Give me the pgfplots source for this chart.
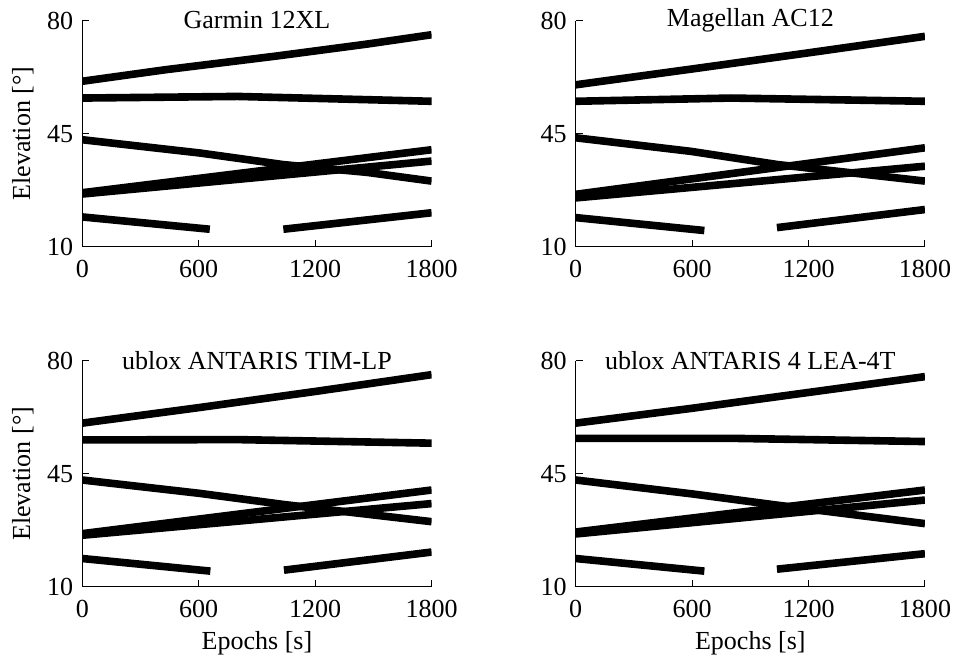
\documentclass[border=0pt]{standalone}
\usepackage{pgfplots}
\pgfplotsset{compat=1.18}
\usepgfplotslibrary{groupplots}
\usepackage{fontspec}
\setmainfont{Liberation Serif}
\begin{document}
\fontsize{13}{15}\selectfont
\begin{tikzpicture}
\begin{groupplot}[
  group style={group size=2 by 2, horizontal sep=72pt, vertical sep=57pt},
  scale only axis, width=174.5pt, height=113pt,
  xmin=0, xmax=1800, ymin=10, ymax=80,
  axis lines=left, axis line style={-, line width=0.5pt},
  xtick={0,600,1200,1800}, ytick={10,45,80},
  tick align=inside, major tick length=3.5pt,
  tick style={black, line width=0.5pt},
  /pgf/number format/assume math mode=true,
  /pgf/number format/1000 sep={},
  ticklabel style={font=\fontsize{13}{15}\selectfont},
  xticklabel style={yshift=-2pt, inner xsep=1pt},
  label style={font=\fontsize{13}{15}\selectfont},
  xlabel style={yshift=2pt},
  ylabel style={inner ysep=6pt, yshift=-3.7pt},
  every axis title shift=0pt,
  title style={at={(0.5,1)}, anchor=center, yshift=0pt, font=\fontsize{13}{15}\selectfont},
  cycle list={black,line width=3.8pt\\},
]
\nextgroupplot[title={Garmin 12XL}, ylabel={Elevation [°]}]
\addplot coordinates {(0,61.2)(433,64.8)(1000,69.0)(1467,72.7)(1800,75.6)};
\addplot coordinates {(0,56)(800,56.5)(1800,55)};
\addplot coordinates {(0,43.1)(605,39.0)(1036,35.4)(1467,33.0)(1800,30.3)};
\addplot coordinates {(0,26.7)(1800,40.0)};
\addplot coordinates {(0,26.3)(1800,36.5)};
\addplot coordinates {(0,19.2)(657,15.4)};
\addplot coordinates {(1036,15.4)(1800,20.5)};
\nextgroupplot[title={Magellan AC12}]
\addplot coordinates {(0,60.1)(600,65.0)(1200,70.0)(1800,75.1)};
\addplot coordinates {(0,55)(800,56)(1800,55)};
\addplot coordinates {(0,43.7)(594,39.5)(1042,35.4)(1800,30.3)};
\addplot coordinates {(0,26.2)(1800,40.6)};
\addplot coordinates {(0,25.1)(1800,34.9)};
\addplot coordinates {(0,19.0)(663,15.0)};
\addplot coordinates {(1037,15.9)(1800,21.5)};
\nextgroupplot[title={ublox ANTARIS TIM-LP}, ylabel={Elevation [°]}, xlabel={Epochs [s]}]
\addplot coordinates {(0,60.7)(600,65.5)(1200,70.5)(1800,75.7)};
\addplot coordinates {(0,55.5)(800,55.6)(1800,54.5)};
\addplot coordinates {(0,43.1)(600,39.0)(1040,35.5)(1800,30.2)};
\addplot coordinates {(0,26.5)(1800,40.0)};
\addplot coordinates {(0,26.0)(1800,35.8)};
\addplot coordinates {(0,18.8)(660,14.9)};
\addplot coordinates {(1039,15.2)(1800,20.8)};
\nextgroupplot[title={ublox ANTARIS 4 LEA-4T}, xlabel={Epochs [s]}]
\addplot coordinates {(0,60.7)(600,65.3)(1200,70.2)(1800,75.1)};
\addplot coordinates {(0,56.0)(800,56.0)(1800,55.0)};
\addplot coordinates {(0,43.1)(600,38.8)(1040,35.3)(1800,29.6)};
\addplot coordinates {(0,27.0)(1800,40.0)};
\addplot coordinates {(0,26.4)(1800,36.9)};
\addplot coordinates {(0,18.8)(663,14.9)};
\addplot coordinates {(1037,15.5)(1800,20.3)};
\end{groupplot}
\end{tikzpicture}
\end{document}
